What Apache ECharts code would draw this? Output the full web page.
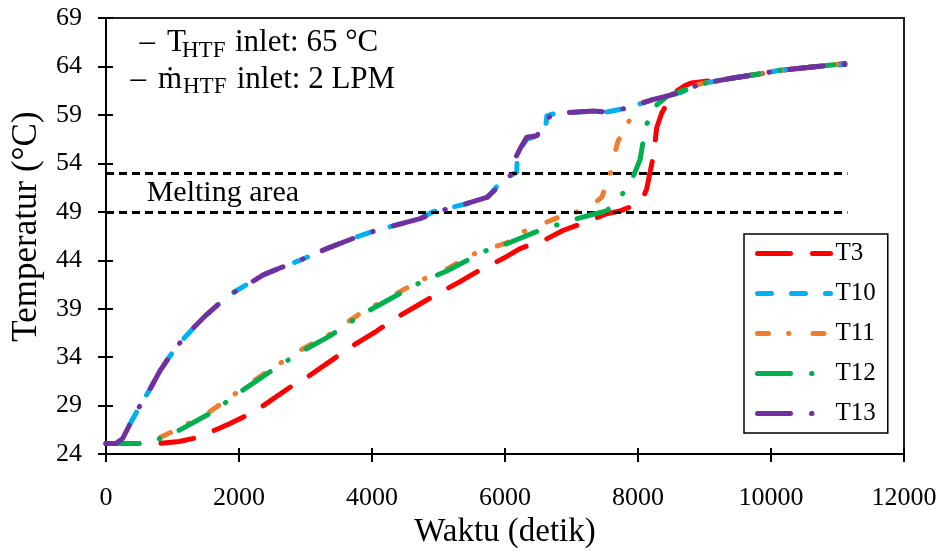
<!DOCTYPE html>
<html><head><meta charset="utf-8">
<script src="https://cdn.jsdelivr.net/npm/echarts/dist/echarts.min.js"></script>
<style>html,body{margin:0;padding:0;background:#fff}#c{width:942px;height:554px}</style>
</head><body><div id="c"></div>
<script>
// ---- data (time in s, temperature in °C) ----
const seriesNames = ['T3', 'T10', 'T11', 'T12', 'T13'];
const xTicks = { min: 0, max: 12000, step: 2000 };
const yTicks = { min: 24, max: 69, step: 5 };
const meltingBounds = [49, 53];
const meltingSpan = [0, 11150];

const T3 = [[0,25.1],[812,25.1],[1100,25.3],[1364,25.7],[1614,26.4],[1850,27.1],[2116,28.0],[2366,29.0],[2767,30.9],[3018,31.9],[3419,33.8],[3620,34.8],[4071,36.7],[4322,37.9],[4924,40.3],[5324,41.8],[5575,42.8],[5976,44.2],[6226,45.2],[6627,46.2],[6878,47.1],[7279,48.1],[7530,48.8],[7731,49.1],[7881,49.5],[7981,49.8],[8080,50.5],[8132,51.4],[8182,53.1],[8232,54.8],[8282,57.7],[8357,59.2],[8432,60.1],[8550,61.3],[8700,62.0],[8800,62.3],[8933,62.4],[9430,62.8],[9886,63.3],[10136,63.6],[10689,64.0],[11114,64.3]];

const T10 = [[0,25.1],[150,25.1],[250,25.6],[361,27.1],[511,29.0],[662,30.7],[812,32.6],[960,34.1],[1113,35.5],[1339,37.2],[1514,38.4],[1715,39.6],[1900,40.6],[2116,41.5],[2366,42.5],[2617,43.2],[2918,44.0],[3319,45.2],[3770,46.4],[4071,47.1],[4400,47.7],[4723,48.3],[4918,49.0],[5400,49.8],[5726,50.4],[5926,52.0],[6100,52.8],[6176,53.1],[6185,54.8],[6226,55.4],[6327,56.5],[6477,56.8],[6560,57.4],[6610,57.7],[6630,58.9],[6720,59.1],[6878,59.2],[7329,59.4],[7530,59.3],[7831,59.7],[8232,60.6],[8633,61.3],[8933,62.2],[9430,62.8],[9886,63.3],[10136,63.6],[10689,64.0],[11114,64.2]];

const T11 = [[0,25.1],[500,25.1],[650,25.3],[812,25.7],[1113,26.7],[1564,28.4],[1815,29.6],[2015,30.6],[2467,32.7],[2918,34.7],[3369,36.4],[3820,38.5],[4271,40.2],[4723,41.9],[5124,43.1],[5575,44.8],[6026,45.8],[6226,46.8],[6828,48.5],[7229,49.3],[7455,50.5],[7530,51.9],[7600,53.3],[7650,55.0],[7700,56.3],[7831,57.9],[7981,59.9],[8082,60.3],[8432,61.0],[8633,61.4],[8933,62.2],[9430,62.8],[9886,63.3],[10136,63.6],[10689,64.0],[11114,64.3]];

const T12 = [[0,25.1],[550,25.1],[700,25.3],[812,25.6],[1113,26.5],[1564,28.2],[1815,29.4],[2015,30.4],[2467,32.5],[2918,34.5],[3369,36.2],[3820,38.3],[4271,40.0],[4723,41.7],[5124,42.9],[5575,44.5],[5775,45.2],[6026,45.7],[6527,47.1],[6978,48.1],[7300,48.7],[7530,49.1],[7700,50.3],[7806,51.2],[7931,52.7],[8032,54.4],[8107,57.5],[8207,59.6],[8432,60.9],[8633,61.4],[8933,62.2],[9430,62.8],[9886,63.3],[10136,63.6],[10689,64.0],[11114,64.3]];

const T13 = [[0,25.1],[150,25.1],[250,25.6],[361,27.1],[511,29.0],[662,30.7],[812,32.6],[960,34.1],[1113,35.5],[1339,37.2],[1514,38.4],[1715,39.6],[1900,40.6],[2116,41.45],[2366,42.5],[2617,43.2],[2918,44.0],[3319,45.2],[3770,46.4],[4071,47.1],[4400,47.7],[4723,48.3],[5023,49.1],[5400,49.8],[5726,50.5],[5976,52.0],[6050,52.5],[6130,53.2],[6160,54.6],[6226,55.5],[6327,56.7],[6477,56.85],[6560,57.5],[6602,58.2],[6640,58.6],[6720,59.1],[6878,59.2],[7329,59.4],[7530,59.3],[7831,59.7],[8232,60.6],[8633,61.3],[8933,62.2],[9430,62.8],[9886,63.3],[10136,63.6],[10689,64.0],[11114,64.2]];

const seriesData = [T3, T10, T11, T12, T13];

// ---- styles ----
const colors = ['#FF0000', '#00B0F0', '#ED7D31', '#00B050', '#7030A0'];
const dashes = [[33, 22], [14, 20], [11, 20, 0.5, 24], [33, 21, 0.5, 21], [33, 21, 0.5, 21]];
const FONT = 'Liberation Serif';
const LW = 5;

const series = seriesNames.map((n, i) => ({
  name: n, type: 'line', data: seriesData[i], showSymbol: false, symbol: 'none',
  xAxisIndex: 0, yAxisIndex: 0,
  lineStyle: { color: colors[i], width: LW, type: dashes[i], cap: 'round', join: 'round' },
  itemStyle: { color: colors[i] }, z: 2 + i
}));
series.push({
  name: 'melting', type: 'line', data: [], z: 10,
  markLine: {
    silent: true, symbol: ['none', 'none'], label: { show: false },
    lineStyle: { color: '#000', width: 3, type: [8, 5], cap: 'butt' },
    data: meltingBounds.map(v => [{ coord: [meltingSpan[0], v] }, { coord: [meltingSpan[1], v] }])
  }
});

const axisLineStyle = { color: '#000', width: 2 };
const mid = (baseline, fs) => baseline - 0.34 * fs;
function txt(s, x, baseline, fs) {
  return { type: 'text', x: x, y: mid(baseline, fs), z: 20,
    style: { text: s, fontFamily: FONT, fontSize: fs, fill: '#000', verticalAlign: 'middle', align: 'left' } };
}

const option = {
  animation: false,
  backgroundColor: '#fff',
  grid: { left: 106, top: 18, right: 38, bottom: 97, show: true, borderColor: '#222', borderWidth: 2, backgroundColor: 'transparent' },
  xAxis: [{
    type: 'value', min: xTicks.min, max: xTicks.max, interval: xTicks.step,
    name: 'Waktu (detik)', nameLocation: 'middle', nameGap: 60,
    nameTextStyle: { fontFamily: FONT, fontSize: 33, color: '#000' },
    axisLine: { show: true, onZero: false, lineStyle: axisLineStyle },
    axisTick: { show: true, inside: false, length: 8, lineStyle: axisLineStyle },
    axisLabel: { fontFamily: FONT, fontSize: 26, color: '#000', margin: 31, formatter: v => String(v) },
    splitLine: { show: false }
  }, {
    type: 'value', min: xTicks.min, max: xTicks.max, interval: xTicks.step, position: 'bottom',
    axisLine: { show: false }, axisTick: { show: true, inside: true, length: 6, lineStyle: axisLineStyle },
    axisLabel: { show: false }, splitLine: { show: false }
  }],
  yAxis: [{
    type: 'value', min: yTicks.min, max: yTicks.max, interval: yTicks.step,
    name: 'Temperatur (°C)', nameLocation: 'middle', nameGap: 62, nameRotate: 90,
    nameTextStyle: { fontFamily: FONT, fontSize: 35, color: '#000', padding: [0, 0, 0, 19] },
    axisLine: { show: true, onZero: false, lineStyle: axisLineStyle },
    axisTick: { show: true, inside: false, length: 8, lineStyle: axisLineStyle },
    axisLabel: { fontFamily: FONT, fontSize: 26, color: '#000', margin: 24 },
    splitLine: { show: false }
  }, {
    type: 'value', min: yTicks.min, max: yTicks.max, interval: yTicks.step, position: 'left',
    axisLine: { show: false }, axisTick: { show: true, inside: true, length: 7, lineStyle: axisLineStyle },
    axisLabel: { show: false }, splitLine: { show: false }
  }],
  legend: {
    orient: 'vertical', left: 744, top: 234, padding: [7, 12, 7, 11],
    itemWidth: 73, itemHeight: 12, itemGap: 15,
    borderColor: '#000', borderWidth: 1.5, backgroundColor: '#fff',
    itemStyle: { opacity: 0 },
    textStyle: { fontFamily: FONT, fontSize: 25, color: '#000' },
    data: seriesNames.map((n, i) => ({ name: n, itemStyle: { opacity: 0 }, lineStyle: { width: LW, type: dashes[i], cap: 'round', color: colors[i], opacity: 1 } }))
  },
  graphic: [
    txt('–', 139.5, 53.3, 31), txt('T', 167, 53.3, 31), txt('HTF', 182, 58.5, 23), txt('inlet: 65 °C', 235, 53.3, 31),
    txt('–', 130.5, 90, 31), txt('ṁ', 158, 90, 31), txt('HTF', 183, 95, 23), txt('inlet: 2 LPM', 236.7, 90, 31),
    txt('Melting area', 146.7, 203.3, 30)
  ],
  series: series
};
echarts.init(document.getElementById('c'), null, { renderer: 'canvas' }).setOption(option);
</script>
</body></html>
